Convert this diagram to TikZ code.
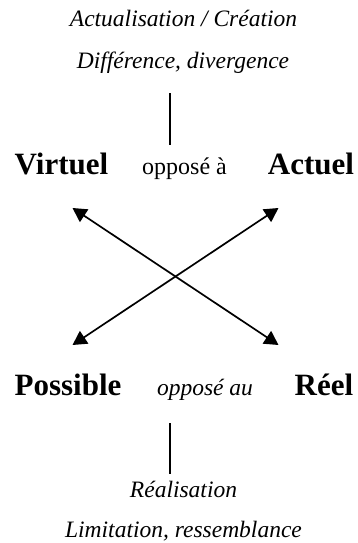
\documentclass[tikz,border=0pt]{standalone}
\usepackage{fontspec}
\setmainfont{Liberation Serif}
\usetikzlibrary{arrows.meta}
\tikzset{
  bigword/.style={font=\fontsize{31}{36}\selectfont\bfseries, inner sep=0pt, anchor=base},
  itlabel/.style={font=\fontsize{23.5}{28}\selectfont\itshape, inner sep=0pt, anchor=base},
  rmlabel/.style={font=\fontsize{24}{28}\selectfont, inner sep=0pt, anchor=base},
  dblarrow/.style={line width=1.7pt, {Triangle[length=14pt,width=15pt]}-{Triangle[length=14pt,width=15pt]}},
  stem/.style={line width=1.6pt}
}
\begin{document}
\begin{tikzpicture}[x=1pt,y=-1pt]
\useasboundingbox (0,0) rectangle (358,543);
\node[itlabel] (t1) at (183.5,27) {Actualisation / Création};
\node[itlabel] (t2) at (183,68) {Différence, divergence};
\coordinate (s1a) at (170,93);
\coordinate (s1b) at (170,145);
\draw[stem] (s1a) -- (s1b);
\node[bigword] (virt) at (61.5,174) {Virtuel};
\node[rmlabel] (opp1) at (184.5,174) {opposé à};
\node[bigword] (act) at (311,174) {Actuel};
\coordinate (ul) at (72.5,208);
\coordinate (ur) at (278.5,208);
\coordinate (ll) at (72.5,345);
\coordinate (lr) at (278.5,345);
\draw[dblarrow] (ul) -- (lr);
\draw[dblarrow] (ur) -- (ll);
\node[bigword] (poss) at (68,395) {Possible};
\node[itlabel] (opp2) at (205,395) {opposé au};
\node[bigword] (reel) at (324,395) {Réel};
\coordinate (s2a) at (170,423);
\coordinate (s2b) at (170,474);
\draw[stem] (s2a) -- (s2b);
\node[itlabel] (b1) at (183.5,497) {Réalisation};
\node[itlabel] (b2) at (183.5,537) {Limitation, ressemblance};
\end{tikzpicture}
\end{document}
